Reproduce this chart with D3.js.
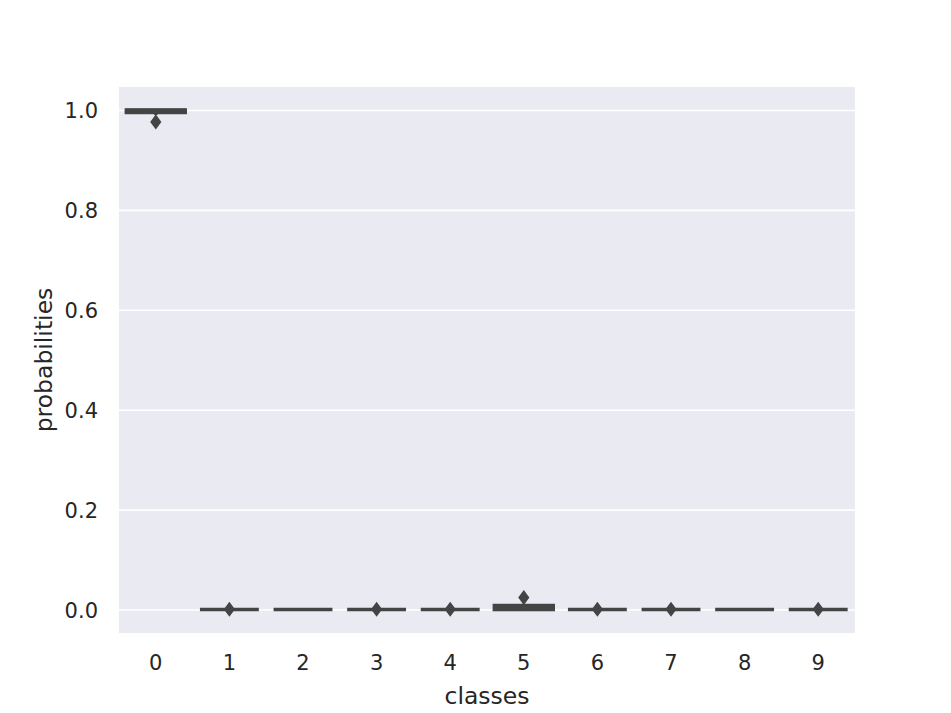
<!DOCTYPE html>
<html>
<head>
<meta charset="utf-8">
<script src="https://cdn.jsdelivr.net/npm/d3@7"></script>
<style>
  html, body { margin: 0; padding: 0; background: #ffffff; }
  svg { display: block; }
</style>
</head>
<body>
<svg id="chart" width="951" height="713"></svg>
<script>
// ---- data ----
const classes     = ["0", "1", "2", "3", "4", "5", "6", "7", "8", "9"];
const q1          = [0.9950, 0, 0, 0, 0, 0.0000, 0, 0, 0, 0];
const medians     = [0.9990, 0, 0, 0, 0, 0.0020, 0, 0, 0, 0];
const q3          = [1.0000, 0, 0, 0, 0, 0.0080, 0, 0, 0, 0];
const whiskerLow  = [0.9900, 0, 0, 0, 0, 0.0000, 0, 0, 0, 0];
const whiskerHigh = [1.0000, 0, 0, 0, 0, 0.0100, 0, 0, 0, 0];
const outliers    = [[0.976], [0.0005], [], [0.0005], [0.0005], [0.024], [0.0005], [0.0005], [], [0.0005]];
const yTicks      = [0.0, 0.2, 0.4, 0.6, 0.8, 1.0];
const xLabel = "classes";
const yLabel = "probabilities";

// ---- layout ----
const svg = d3.select("#chart");
const plot = { left: 119, right: 855, top: 87, bottom: 633 };
const lineColor = "#444444";
const textColor = "#262626";
const font = "DejaVu Sans, sans-serif";

const x = d3.scaleBand().domain(classes).range([plot.left, plot.right]).paddingInner(0).paddingOuter(0);
const y = d3.scaleLinear().domain([-0.047, 1.046]).range([plot.bottom, plot.top]);

// background
svg.append("rect")
  .attr("x", plot.left).attr("y", plot.top)
  .attr("width", plot.right - plot.left).attr("height", plot.bottom - plot.top)
  .attr("fill", "#eaeaf2");

// y grid + labels via axis
const yAxis = d3.axisLeft(y).tickValues(yTicks).tickFormat(d3.format(".1f"))
  .tickSize(-(plot.right - plot.left)).tickPadding(21);
const gy = svg.append("g").attr("transform", `translate(${plot.left},0)`).call(yAxis);
gy.select(".domain").remove();
gy.selectAll(".tick line").attr("stroke", "#ffffff").attr("stroke-width", 1.6);
gy.selectAll(".tick text").attr("fill", textColor).attr("font-family", font).attr("font-size", 21)
  .attr("dy", "0.36em");

// x axis labels
const xAxis = d3.axisBottom(x).tickSize(0).tickPadding(22);
const gx = svg.append("g").attr("transform", `translate(0,${plot.bottom})`).call(xAxis);
gx.select(".domain").remove();
gx.selectAll(".tick line").remove();
gx.selectAll(".tick text").attr("fill", textColor).attr("font-family", font).attr("font-size", 21);

// boxes
const boxW = x.bandwidth() * 0.8;
const lw = 3.5;
const g = svg.append("g");
classes.forEach((c, i) => {
  const cx = x(c) + x.bandwidth() / 2;
  // whiskers
  g.append("line").attr("x1", cx).attr("x2", cx)
    .attr("y1", y(q1[i])).attr("y2", y(whiskerLow[i]))
    .attr("stroke", lineColor).attr("stroke-width", lw);
  g.append("line").attr("x1", cx).attr("x2", cx)
    .attr("y1", y(q3[i])).attr("y2", y(whiskerHigh[i]))
    .attr("stroke", lineColor).attr("stroke-width", lw);
  // box
  g.append("rect")
    .attr("x", cx - boxW / 2).attr("width", boxW)
    .attr("y", y(q3[i])).attr("height", Math.max(0, y(q1[i]) - y(q3[i])))
    .attr("fill", lineColor).attr("stroke", lineColor).attr("stroke-width", lw)
    .attr("stroke-linejoin", "miter");
  // median
  g.append("line").attr("x1", cx - boxW / 2).attr("x2", cx + boxW / 2)
    .attr("y1", y(medians[i])).attr("y2", y(medians[i]))
    .attr("stroke", lineColor).attr("stroke-width", lw);
  // outliers (thin diamonds)
  outliers[i].forEach(v => {
    const py = y(v);
    const hw = 5.6, hh = 7.6;
    g.append("path")
      .attr("d", `M${cx},${py - hh}L${cx + hw},${py}L${cx},${py + hh}L${cx - hw},${py}Z`)
      .attr("fill", lineColor);
  });
});

// axis titles
svg.append("text")
  .attr("x", (plot.left + plot.right) / 2).attr("y", 704)
  .attr("text-anchor", "middle").attr("fill", textColor)
  .attr("font-family", font).attr("font-size", 23.5).text(xLabel);
svg.append("text")
  .attr("transform", `translate(52,${(plot.top + plot.bottom) / 2}) rotate(-90)`)
  .attr("text-anchor", "middle").attr("fill", textColor)
  .attr("font-family", font).attr("font-size", 23.5).text(yLabel);
</script>
</body>
</html>
